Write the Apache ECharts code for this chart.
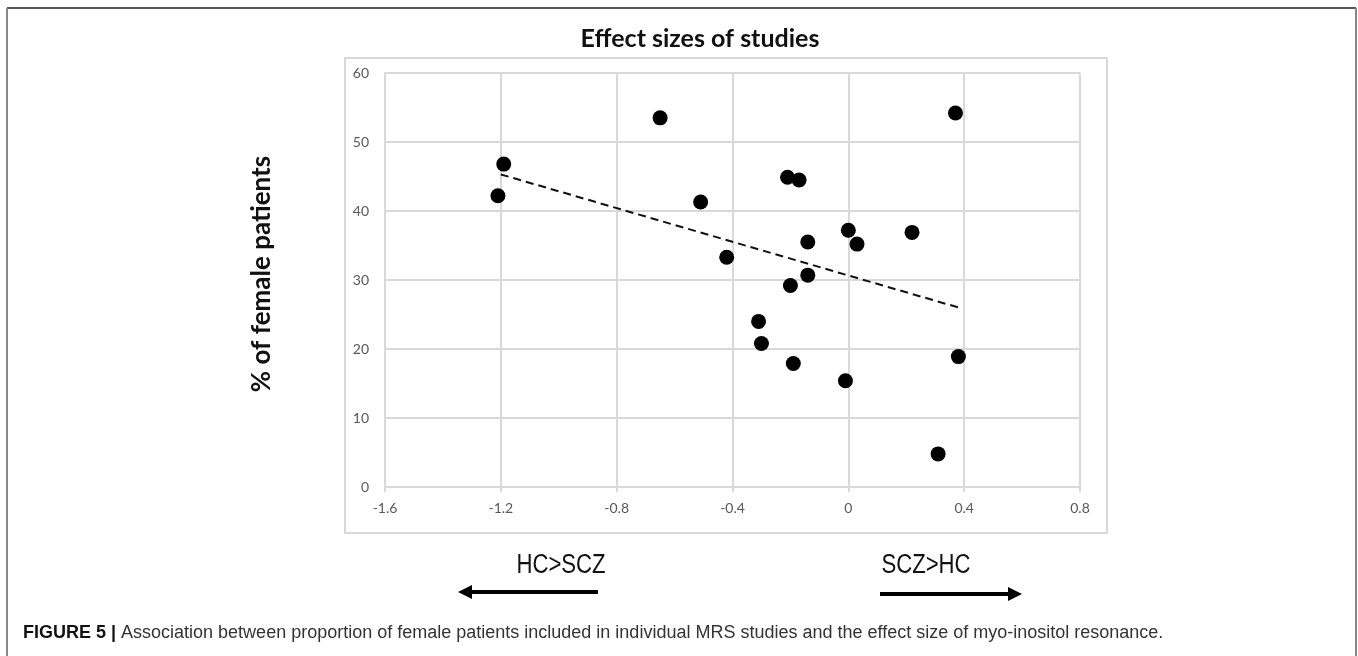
<!DOCTYPE html>
<html>
<head>
<meta charset="utf-8">
<title>Effect sizes of studies</title>
<script src="https://cdn.jsdelivr.net/npm/echarts@6/dist/echarts.min.js"></script>
<style>
  html, body { margin: 0; padding: 0; background: #fff; }
  #chart { width: 1358px; height: 656px; }
</style>
</head>
<body>
<div id="chart"></div>
<script>
// effect size (x) and % of female patients (y) per study
var effectSize = [-1.19, -1.21, -0.65, 0.37, -0.21, -0.17, -0.51, 0.00, 0.22, 0.03,
  -0.14, -0.42, -0.14, -0.20, -0.31, -0.30, -0.19, -0.01, 0.38, 0.31]
var femalePct = [46.8, 42.2, 53.5, 54.2, 44.9, 44.5, 41.3, 37.2, 36.9, 35.2,
  35.5, 33.3, 30.7, 29.2, 24.0, 20.8, 17.9, 15.4, 18.9, 4.8]
// linear trend line ends
var trendX = [-1.2, 0.39]
var trendY = [45.3, 25.9]
// axis ticks
var xTicks = [-1.6, -1.2, -0.8, -0.4, 0, 0.4, 0.8]
var yTicks = [0, 10, 20, 30, 40, 50, 60]

var chart = echarts.init(document.getElementById('chart'))

var points = effectSize.map(function(x, i) { return [x, femalePct[i]] })
var trend = trendX.map(function(x, i) { return [x, trendY[i]] })

var gridColor = '#d9d9d9'
var labelStyle = { color: '#595959', fontSize: 14, fontFamily: 'Lato' }

var option = {
  backgroundColor: '#fff',
  animation: false,
  title: {
    text: 'Effect sizes of studies',
    left: 695,
    top: 21,
    textAlign: 'center',
    textStyle: { fontFamily: 'Lato', fontWeight: 'bold', fontSize: 25, color: '#111' }
  },
  grid: { left: 385, top: 73, width: 695, height: 414 },
  xAxis: {
    type: 'value',
    min: xTicks[0],
    max: xTicks[xTicks.length - 1],
    interval: 0.4,
    axisLine: { show: true, onZero: false, lineStyle: { color: gridColor, width: 2 } },
    axisTick: { show: true, length: 5, lineStyle: { color: gridColor, width: 2 } },
    splitLine: { show: true, lineStyle: { color: gridColor, width: 2 } },
    axisLabel: Object.assign({ margin: 14, formatter: function(v) { return (+v.toFixed(1)).toString() } }, labelStyle)
  },
  yAxis: {
    type: 'value',
    min: yTicks[0],
    max: yTicks[yTicks.length - 1],
    interval: 10,
    axisLine: { show: true, onZero: false, lineStyle: { color: gridColor, width: 2 } },
    axisTick: { show: false },
    splitLine: { show: true, lineStyle: { color: gridColor, width: 2 } },
    axisLabel: Object.assign({ margin: 16 }, labelStyle)
  },
  series: [
    {
      type: 'line',
      data: trend,
      symbol: 'none',
      lineStyle: { color: '#111', width: 2, type: [8, 5] },
      z: 2
    },
    {
      type: 'scatter',
      data: points,
      symbol: 'circle',
      symbolSize: 15,
      itemStyle: { color: '#000', opacity: 1 },
      z: 3
    }
  ],
  graphic: [
    // outer figure frame
    { type: 'line', shape: { x1: 7, y1: 8, x2: 1356, y2: 8 }, style: { stroke: '#555', lineWidth: 2 } },
    { type: 'line', shape: { x1: 7, y1: 8, x2: 7, y2: 656 }, style: { stroke: '#888', lineWidth: 2 } },
    { type: 'line', shape: { x1: 1356, y1: 8, x2: 1356, y2: 656 }, style: { stroke: '#888', lineWidth: 2 } },
    // chart box
    { type: 'rect', shape: { x: 345, y: 58, width: 762, height: 475 }, style: { fill: null, stroke: gridColor, lineWidth: 2 }, z: -1 },
    // y axis title
    {
      type: 'text', x: 262, y: 274, rotation: Math.PI / 2,
      style: { text: '% of female patients', fontFamily: 'Lato', fontWeight: 'bold', fontSize: 26, fill: '#111', align: 'center', verticalAlign: 'middle' }
    },
    // direction labels and arrows
    {
      type: 'text', x: 561, y: 566, scaleX: 0.82,
      style: { text: 'HC>SCZ', fontFamily: 'Liberation Sans', fontSize: 27, fill: '#111', align: 'center', verticalAlign: 'middle' }
    },
    { type: 'line', shape: { x1: 470, y1: 592, x2: 598, y2: 592 }, style: { stroke: '#000', lineWidth: 4 } },
    { type: 'polygon', shape: { points: [[458, 592], [472, 585], [472, 599]] }, style: { fill: '#000' } },
    {
      type: 'text', x: 926, y: 566, scaleX: 0.82,
      style: { text: 'SCZ>HC', fontFamily: 'Liberation Sans', fontSize: 27, fill: '#111', align: 'center', verticalAlign: 'middle' }
    },
    { type: 'line', shape: { x1: 880, y1: 594, x2: 1010, y2: 594 }, style: { stroke: '#000', lineWidth: 4 } },
    { type: 'polygon', shape: { points: [[1022, 594], [1008, 587], [1008, 601]] }, style: { fill: '#000' } },
    // caption
    {
      type: 'text', x: 23, y: 633,
      style: {
        text: '{b|FIGURE 5 |} Association between proportion of female patients included in individual MRS studies and the effect size of myo-inositol resonance.',
        fontFamily: 'Liberation Sans', fontSize: 18, fill: '#333', verticalAlign: 'middle',
        rich: { b: { fontFamily: 'Liberation Sans', fontWeight: 'bold', fontSize: 18, fill: '#111' } }
      }
    }
  ]
}

chart.setOption(option)
window.addEventListener('resize', function() {
  chart.resize()
})
</script>
</body>
</html>
